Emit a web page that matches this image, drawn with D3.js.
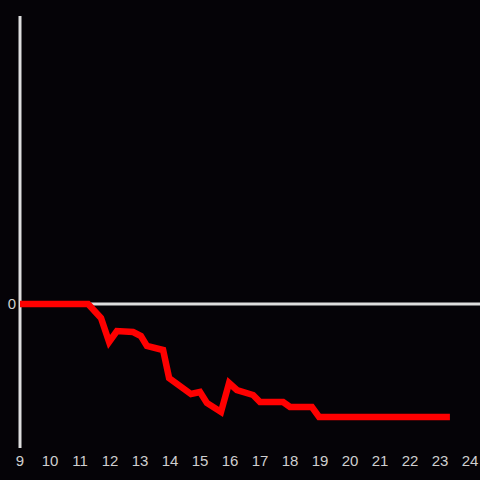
<!DOCTYPE html>
<html>
<head>
<meta charset="utf-8">
<script src="https://cdn.jsdelivr.net/npm/d3@7"></script>
<style>
  html, body { margin: 0; padding: 0; background: #050307; }
  svg { display: block; }
</style>
</head>
<body>
<div id="chart"></div>
<script>
// hours of the day and the series value at each point (0 = baseline)
const hours = [9, 11.27, 11.7, 11.97, 12.23, 12.77, 13.03, 13.23, 13.77, 13.97,
    14.7, 15.0, 15.23, 15.7, 15.97, 16.23, 16.77, 17.0, 17.77, 18.0, 18.73, 18.97, 23.33];
const values = [0, 0, -14, -38, -27, -28, -32, -42, -46, -74,
    -90, -88, -99, -108, -79, -86, -91, -98, -98, -103, -103, -113, -113];
const xTicks = [9, 10, 11, 12, 13, 14, 15, 16, 17, 18, 19, 20, 21, 22, 23, 24];
const yTicks = [0];

const width = 480;
const height = 480;
const margin = { top: 16, right: 10, bottom: 32, left: 20 };

const svg = d3.select("#chart")
    .append("svg")
    .attr("width", width)
    .attr("height", height);

svg.append("rect")
    .attr("width", width)
    .attr("height", height)
    .attr("fill", "#050307");

const x = d3.scaleLinear()
    .domain([9, 24])
    .range([margin.left, width - margin.right]);

const y = d3.scaleLinear()
    .domain([-144, 288])
    .range([height - margin.bottom, margin.top]);

const data = hours.map((h, i) => ({ h, v: values[i] }));

// y axis line
svg.append("line")
    .attr("x1", margin.left).attr("x2", margin.left)
    .attr("y1", margin.top).attr("y2", height - margin.bottom)
    .attr("stroke", "#dedede")
    .attr("stroke-width", 3);

// zero line
svg.selectAll(".zero")
    .data(yTicks)
    .enter().append("line")
    .attr("x1", margin.left).attr("x2", width)
    .attr("y1", d => y(d)).attr("y2", d => y(d))
    .attr("stroke", "#dedede")
    .attr("stroke-width", 3);

svg.selectAll(".ylab")
    .data(yTicks)
    .enter().append("text")
    .attr("x", margin.left - 4)
    .attr("y", d => y(d))
    .attr("dy", "0.35em")
    .attr("text-anchor", "end")
    .attr("font-family", "Liberation Sans, Arial, sans-serif")
    .attr("font-size", 15)
    .attr("fill", "#cfcfcf")
    .text(d => d);

svg.selectAll(".xlab")
    .data(xTicks)
    .enter().append("text")
    .attr("x", d => x(d))
    .attr("y", 466)
    .attr("text-anchor", "middle")
    .attr("font-family", "Liberation Sans, Arial, sans-serif")
    .attr("font-size", 15)
    .attr("fill", "#cfcfcf")
    .text(d => d);

const line = d3.line()
    .x(d => x(d.h))
    .y(d => y(d.v));

svg.append("path")
    .datum(data)
    .attr("d", line)
    .attr("fill", "none")
    .attr("stroke", "#ff0000")
    .attr("stroke-width", 6.5);
</script>
</body>
</html>
